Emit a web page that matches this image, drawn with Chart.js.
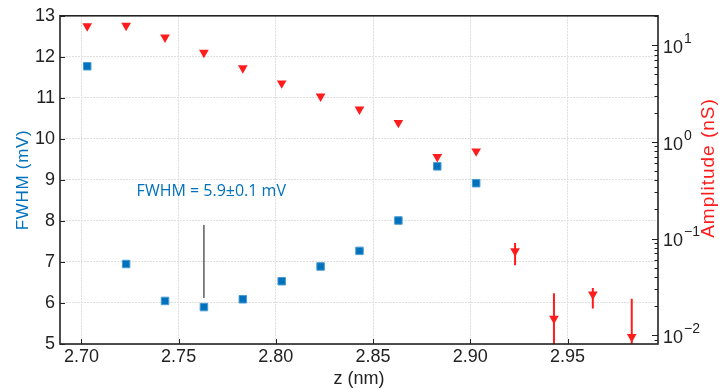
<!DOCTYPE html>
<html>
<head>
<meta charset="utf-8">
<script src="https://cdn.jsdelivr.net/npm/chart.js@4"></script>
<style>
  body { margin: 0; background: #fff; }
</style>
</head>
<body>
<canvas id="chart" width="719" height="390"></canvas>
<script>
// FWHM points (blue squares, left axis)
const zFwhm = [2.703, 2.723, 2.743, 2.763, 2.783, 2.803, 2.823, 2.843, 2.863, 2.883, 2.903];
const fwhm = [11.77, 6.95, 6.05, 5.90, 6.09, 6.53, 6.89, 7.27, 8.01, 9.33, 8.92];

// Amplitude points (red triangles, right log axis) with error bars where present
const zAmp = [2.703, 2.723, 2.743, 2.763, 2.783, 2.803, 2.823, 2.843, 2.863, 2.883, 2.903, 2.923, 2.943, 2.963, 2.983];
const amp = [15.8, 16.0, 12.1, 8.4, 5.8, 4.05, 2.96, 2.17, 1.58, 0.70, 0.80, 0.074, 0.0148, 0.0264, 0.0096];
const ampLow = [null, null, null, null, null, null, null, null, null, null, null, 0.053, 0.001, 0.0188, 0.001];
const ampHigh = [null, null, null, null, null, null, null, null, null, null, null, 0.090, 0.0272, 0.0308, 0.0238];

// marker line under the FWHM label
const markZ = [2.763, 2.763];
const markY = [6.12, 7.90];

// ticks
const xTicks = [2.70, 2.75, 2.80, 2.85, 2.90, 2.95];
const fwhmTicks = [5, 6, 7, 8, 9, 10, 11, 12, 13];
const ampTicks = [0.01, 0.1, 1, 10];

const blue = '#0072bd';
const red = '#ff1c1c';
const ink = '#222';

const decorations = {
  id: 'decorations',
  beforeDatasetsDraw(chart) {
    const { ctx, chartArea: a, scales: { x, y2 } } = chart;
    ctx.save();
    ctx.beginPath();
    ctx.rect(a.left, a.top, a.right - a.left, a.bottom - a.top);
    ctx.clip();
    ctx.strokeStyle = red;
    ctx.lineWidth = 2;
    zAmp.forEach((z, i) => {
      if (ampLow[i] == null) return;
      const px = x.getPixelForValue(z);
      ctx.beginPath();
      ctx.moveTo(px, y2.getPixelForValue(ampLow[i]));
      ctx.lineTo(px, y2.getPixelForValue(ampHigh[i]));
      ctx.stroke();
    });
    ctx.restore();
  },
  afterDraw(chart) {
    const { ctx, chartArea: a, scales: { x, y, y2 } } = chart;
    ctx.save();

    // frame
    ctx.strokeStyle = ink;
    ctx.lineWidth = 1.6;
    ctx.strokeRect(a.left, a.top, a.right - a.left, a.bottom - a.top);

    // inward ticks
    ctx.lineWidth = 1;
    ctx.beginPath();
    xTicks.forEach(v => {
      const px = Math.round(x.getPixelForValue(v)) + 0.5;
      ctx.moveTo(px, a.bottom);
      ctx.lineTo(px, a.bottom - 5);
    });
    fwhmTicks.forEach(v => {
      const py = Math.round(y.getPixelForValue(v)) + 0.5;
      ctx.moveTo(a.left, py);
      ctx.lineTo(a.left + 5, py);
    });
    for (let e = -3; e <= 1; e++) {
      for (let m = 1; m <= 9; m++) {
        const v = m * Math.pow(10, e);
        if (v < y2.min || v > y2.max) continue;
        const py = Math.round(y2.getPixelForValue(v)) + 0.5;
        ctx.moveTo(a.right, py);
        ctx.lineTo(a.right - (m === 1 ? 6 : 3.5), py);
      }
    }
    ctx.stroke();

    // right axis labels 10^n
    ctx.fillStyle = ink;
    ctx.textBaseline = 'middle';
    ctx.textAlign = 'left';
    ampTicks.forEach(v => {
      const py = y2.getPixelForValue(v);
      const exp = Math.round(Math.log10(v));
      ctx.font = '18px "Liberation Sans", Arial, sans-serif';
      ctx.fillText('10', a.right + 5, py + 3);
      const w = ctx.measureText('10').width;
      ctx.font = '14px "Liberation Sans", Arial, sans-serif';
      ctx.fillText(exp < 0 ? '\u2212' + (-exp) : String(exp), a.right + 5 + w + 1, py - 6);
    });

    // axis titles
    ctx.letterSpacing = '0.7px';
    ctx.textAlign = 'center';
    ctx.font = '17px "Liberation Sans", Arial, sans-serif';
    ctx.fillStyle = blue;
    ctx.save();
    ctx.translate(23, (a.top + a.bottom) / 2);
    ctx.rotate(-Math.PI / 2);
    ctx.fillText('FWHM (mV)', 0, 0);
    ctx.restore();

    ctx.letterSpacing = '1px';
    ctx.font = '19px "Liberation Sans", Arial, sans-serif';
    ctx.fillStyle = red;
    ctx.save();
    ctx.translate(709, 168);
    ctx.rotate(-Math.PI / 2);
    ctx.fillText('Amplitude (nS)', 0, 0);
    ctx.restore();

    ctx.letterSpacing = '0px';
    ctx.font = '18px "Liberation Sans", Arial, sans-serif';
    ctx.fillStyle = ink;
    ctx.fillText('z (nm)', (a.left + a.right) / 2, 379);

    // annotation
    ctx.textAlign = 'left';
    ctx.font = '16px "Open Sans", sans-serif';
    ctx.fillStyle = blue;
    ctx.fillText('FWHM = 5.9\u00b10.1 mV', x.getPixelForValue(2.7284), y.getPixelForValue(8.72));

    ctx.restore();
  }
};

const gridOpts = { color: '#dedede', drawTicks: false, lineWidth: 1 };

new Chart(document.getElementById('chart'), {
  type: 'scatter',
  data: {
    datasets: [
      {
        label: 'mark',
        data: markZ.map((z, i) => ({ x: z, y: markY[i] })),
        showLine: true,
        borderColor: '#444',
        borderWidth: 1.3,
        pointRadius: 0,
        yAxisID: 'y'
      },
      {
        label: 'FWHM',
        data: zFwhm.map((z, i) => ({ x: z, y: fwhm[i] })),
        pointStyle: 'rect',
        pointRadius: 5.3,
        backgroundColor: blue,
        borderColor: '#4a9bd0',
        borderWidth: 1,
        yAxisID: 'y'
      },
      {
        label: 'Amplitude',
        data: zAmp.map((z, i) => ({ x: z, y: amp[i] })),
        pointStyle: 'triangle',
        rotation: 180,
        pointRadius: 5.6,
        backgroundColor: red,
        borderColor: red,
        borderWidth: 0,
        yAxisID: 'y2'
      }
    ]
  },
  options: {
    responsive: false,
    animation: false,
    layout: { padding: { top: 13, left: 0, right: 0, bottom: 0 } },
    plugins: {
      legend: { display: false },
      tooltip: { enabled: false }
    },
    scales: {
      x: {
        type: 'linear',
        min: 2.689,
        max: 2.9965,
        afterBuildTicks: s => { s.ticks = xTicks.map(v => ({ value: v })); },
        afterFit: s => { s.height = 46; },
        grid: gridOpts,
        border: { display: false, dash: [2, 1] },
        ticks: {
          padding: 2,
          color: ink,
          font: { family: '"Liberation Sans", Arial, sans-serif', size: 18 },
          callback: v => v.toFixed(2),
          maxRotation: 0
        }
      },
      y: {
        type: 'linear',
        position: 'left',
        min: 5,
        max: 13,
        afterBuildTicks: s => { s.ticks = fwhmTicks.map(v => ({ value: v })); },
        afterFit: s => { s.width = 60; },
        grid: gridOpts,
        border: { display: false, dash: [2, 1] },
        ticks: {
          padding: 5,
          color: ink,
          font: { family: '"Liberation Sans", Arial, sans-serif', size: 18 }
        }
      },
      y2: {
        type: 'logarithmic',
        position: 'right',
        min: 0.00809,
        max: 20.2,
        afterBuildTicks: s => { s.ticks = ampTicks.map(v => ({ value: v })); },
        afterFit: s => { s.width = 61; },
        grid: { display: false, drawTicks: false },
        border: { display: false },
        ticks: { display: false }
      }
    }
  },
  plugins: [decorations]
});
</script>
</body>
</html>
